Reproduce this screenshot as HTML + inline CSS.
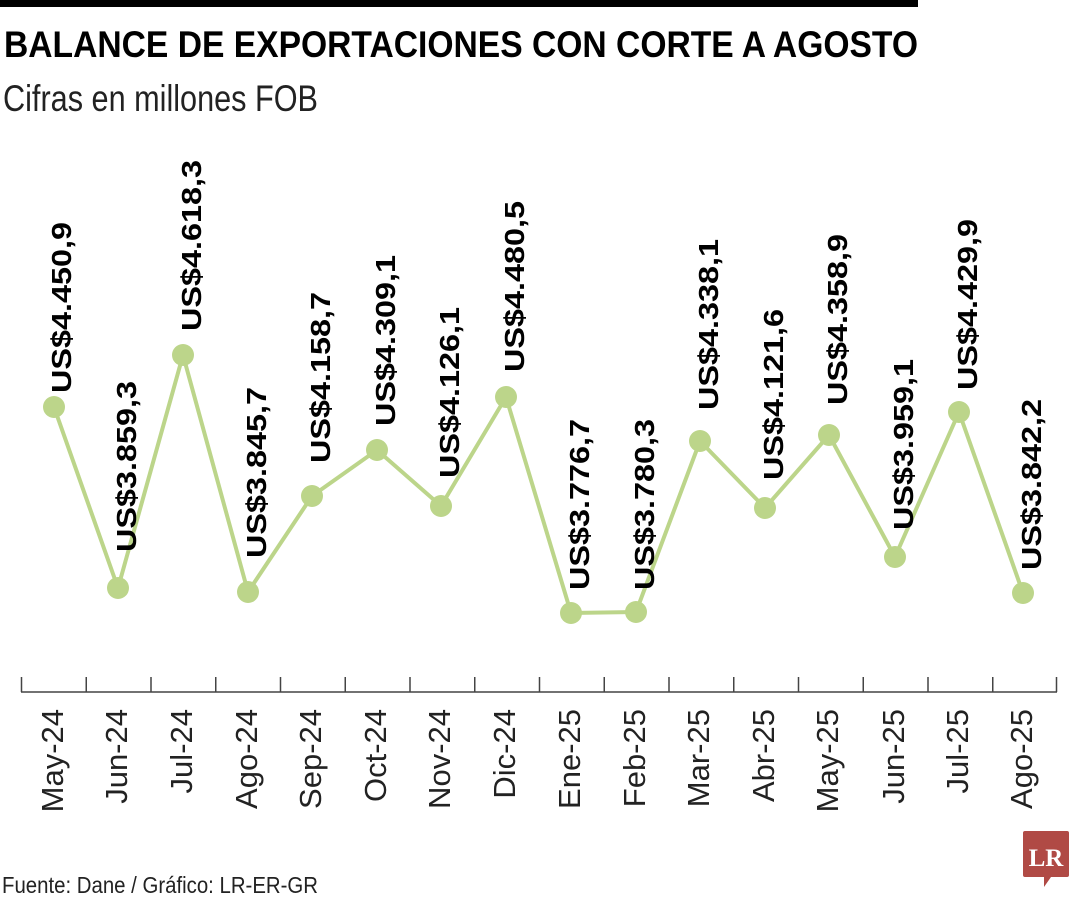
<!DOCTYPE html>
<html><head><meta charset="utf-8"><style>
html,body{margin:0;padding:0;background:#fff;}
svg{display:block;}
</style></head><body>
<svg width="1080" height="900" viewBox="0 0 1080 900" xmlns="http://www.w3.org/2000/svg" font-family="Liberation Sans, sans-serif">
<rect x="0" y="0" width="918" height="7" fill="#000"/>
<text x="4" y="57" font-size="37" font-weight="bold" textLength="914" lengthAdjust="spacingAndGlyphs" fill="#000">BALANCE DE EXPORTACIONES CON CORTE A AGOSTO</text>
<text x="3" y="111" font-size="37" textLength="315" lengthAdjust="spacingAndGlyphs" fill="#222">Cifras en millones FOB</text>
<g stroke="#444" stroke-width="1.5" fill="none">
<line x1="21" y1="692" x2="1057" y2="692"/>
<path d="M21.5 677V692M86.25 677V692M151 677V692M215.75 677V692M280.5 677V692M345.25 677V692M410 677V692M474.75 677V692M539.5 677V692M604.25 677V692M669 677V692M733.75 677V692M798.5 677V692M863.25 677V692M928 677V692M992.75 677V692M1056.5 677V692"/>
</g>
<polyline fill="none" stroke="#bcd58a" stroke-width="4" points="54,407 118,588 183,355 248,592 312,496 377,450 441,506 506,397 571,613 636,612 700,441 765,508 829,435 895,557 959,412 1023,593"/>
<g fill="#bcd58a">
<circle cx="54" cy="407" r="11"/><circle cx="118" cy="588" r="11"/><circle cx="183" cy="355" r="11"/><circle cx="248" cy="592" r="11"/><circle cx="312" cy="496" r="11"/><circle cx="377" cy="450" r="11"/><circle cx="441" cy="506" r="11"/><circle cx="506" cy="397" r="11"/><circle cx="571" cy="613" r="11"/><circle cx="636" cy="612" r="11"/><circle cx="700" cy="441" r="11"/><circle cx="765" cy="508" r="11"/><circle cx="829" cy="435" r="11"/><circle cx="895" cy="557" r="11"/><circle cx="959" cy="412" r="11"/><circle cx="1023" cy="593" r="11"/>
</g>
<g font-size="28" font-weight="bold" fill="#000">
<text transform="translate(71,393) rotate(-90)" textLength="171" lengthAdjust="spacingAndGlyphs">US$4.450,9</text>
<text transform="translate(136,552) rotate(-90)" textLength="171" lengthAdjust="spacingAndGlyphs">US$3.859,3</text>
<text transform="translate(201,331) rotate(-90)" textLength="171" lengthAdjust="spacingAndGlyphs">US$4.618,3</text>
<text transform="translate(266,558) rotate(-90)" textLength="171" lengthAdjust="spacingAndGlyphs">US$3.845,7</text>
<text transform="translate(330,463) rotate(-90)" textLength="171" lengthAdjust="spacingAndGlyphs">US$4.158,7</text>
<text transform="translate(395,426) rotate(-90)" textLength="171" lengthAdjust="spacingAndGlyphs">US$4.309,1</text>
<text transform="translate(459,478) rotate(-90)" textLength="171" lengthAdjust="spacingAndGlyphs">US$4.126,1</text>
<text transform="translate(524,372) rotate(-90)" textLength="171" lengthAdjust="spacingAndGlyphs">US$4.480,5</text>
<text transform="translate(589,590) rotate(-90)" textLength="171" lengthAdjust="spacingAndGlyphs">US$3.776,7</text>
<text transform="translate(654,590) rotate(-90)" textLength="171" lengthAdjust="spacingAndGlyphs">US$3.780,3</text>
<text transform="translate(718,410) rotate(-90)" textLength="171" lengthAdjust="spacingAndGlyphs">US$4.338,1</text>
<text transform="translate(783,480) rotate(-90)" textLength="171" lengthAdjust="spacingAndGlyphs">US$4.121,6</text>
<text transform="translate(847,405) rotate(-90)" textLength="171" lengthAdjust="spacingAndGlyphs">US$4.358,9</text>
<text transform="translate(913,530) rotate(-90)" textLength="171" lengthAdjust="spacingAndGlyphs">US$3.959,1</text>
<text transform="translate(977,390) rotate(-90)" textLength="171" lengthAdjust="spacingAndGlyphs">US$4.429,9</text>
<text transform="translate(1041,570) rotate(-90)" textLength="171" lengthAdjust="spacingAndGlyphs">US$3.842,2</text>
</g>
<g font-size="31" fill="#222" text-anchor="end">
<text transform="translate(63,709) rotate(-90)">May-24</text>
<text transform="translate(127,709) rotate(-90)">Jun-24</text>
<text transform="translate(192,709) rotate(-90)">Jul-24</text>
<text transform="translate(257,709) rotate(-90)">Ago-24</text>
<text transform="translate(321,709) rotate(-90)">Sep-24</text>
<text transform="translate(386,709) rotate(-90)">Oct-24</text>
<text transform="translate(450,709) rotate(-90)">Nov-24</text>
<text transform="translate(515,709) rotate(-90)">Dic-24</text>
<text transform="translate(580,709) rotate(-90)">Ene-25</text>
<text transform="translate(645,709) rotate(-90)">Feb-25</text>
<text transform="translate(709,709) rotate(-90)">Mar-25</text>
<text transform="translate(774,709) rotate(-90)">Abr-25</text>
<text transform="translate(838,709) rotate(-90)">May-25</text>
<text transform="translate(904,709) rotate(-90)">Jun-25</text>
<text transform="translate(968,709) rotate(-90)">Jul-25</text>
<text transform="translate(1032,709) rotate(-90)">Ago-25</text>
</g>
<text x="2" y="893" font-size="23" fill="#222" textLength="316" lengthAdjust="spacingAndGlyphs">Fuente: Dane / Gráfico: LR-ER-GR</text>
<path d="M1025 831H1067Q1069 831 1069 833V875Q1069 877 1067 877H1051L1044 887V877H1025Q1023 877 1023 875V833Q1023 831 1025 831Z" fill="#b04a45"/>
<text x="1046" y="866" font-family="Liberation Serif, serif" font-weight="bold" font-size="25" fill="#fff" text-anchor="middle">LR</text>
</svg>
</body></html>
